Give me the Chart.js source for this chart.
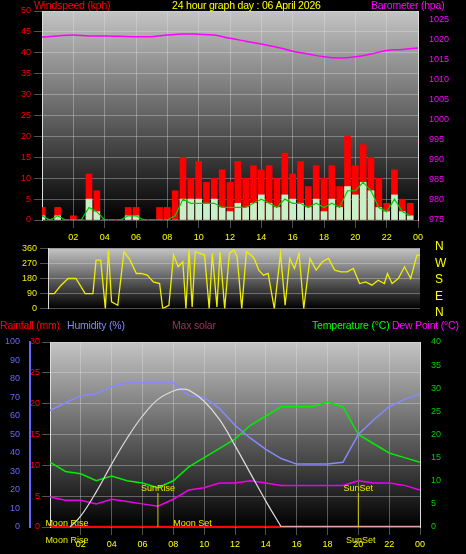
<!DOCTYPE html>
<html><head><meta charset="utf-8">
<script src="https://cdn.jsdelivr.net/npm/chart.js@4"></script>
<style>
body{margin:0;background:#000;width:466px;height:554px;overflow:hidden;font-family:"Liberation Sans",Arial,sans-serif}
canvas{position:absolute;left:0}
.t{position:absolute;font-size:10.5px;white-space:nowrap;letter-spacing:-0.2px}
</style></head><body>
<canvas id="wind" width="466" height="240" style="top:0;width:466px;height:240px"></canvas>
<canvas id="dir" width="466" height="77" style="top:240px;width:466px;height:77px"></canvas>
<canvas id="temp" width="466" height="224" style="top:330px;width:466px;height:224px"></canvas>
<div class="t" style="left:34px;top:-1px;color:#f00">Windspeed (kph)</div>
<div class="t" style="left:172px;top:-1px;color:#ff0">24 hour graph day : 06 April 2026</div>
<div class="t" style="left:371px;top:-1px;color:#f0f">Barometer (hpa)</div>
<div class="t" style="left:0;top:319px;color:#f00">Rainfall (mm)</div>
<div class="t" style="left:67px;top:319px;color:#88f">Humidity (%)</div>
<div class="t" style="left:172px;top:319px;color:#a03060">Max solar</div>
<div class="t" style="left:312px;top:319px;color:#0f0">Temperature (°C)</div>
<div class="t" style="left:392px;top:319px;color:#f0f">Dew Point (°C)</div>
<div class="t" style="left:435px;top:238px;color:#ff0;font-size:12px;line-height:16.5px">N<br>W<br>S<br>E<br>N</div>
<script>
// --- DATA ---
const windHours = [0,0.5,1,1.5,2,2.5,3,3.5,4,4.5,5,5.5,6,6.5,7,7.5,8,8.5,9,9.5,10,10.5,11,11.5,12,12.5,13,13.5,14,14.5,15,15.5,16,16.5,17,17.5,18,18.5,19,19.5,20,20.5,21,21.5,22,22.5,23,23.5];
const windGust = [3,0,3,0,1,0,11,7,0,0,0,3,3,0,0,3,3,7,15,10,14,9,10,12,9,14,10,13,12,13,10,16,11,14,8,13,10,13,8,20,13,18,15,10,4,12,5,4];
const windAvg  = [1,0,1,0,0,0,5,2,0,0,0,1,1,0,0,0,0,0,5,5,5,4,5,3,2,4,3,4,6,4,3,6,5,4,3,5,2,5,3,8,6,9,7,3,2,6,2,1];
const windLine = [1,0,1,0,0,0,3,2,0,0,0,1,1,0,0,0,0,1,5,4,4,4,4,3,3,3,3,4,5,4,3,5,4,4,3,4,3,4,3,7,7,9,7,3,2,5,2,1];
const baroHours = [0,1,2,3,4,5,6,7,8,9,10,11,12,13,14,15,16,17,18,19,20,21,22,23,24];
const baro = [1020.5,1020.8,1021,1020.8,1020.8,1020.7,1020.6,1020.6,1021,1021.3,1021.2,1021,1020.2,1019.5,1018.8,1018,1017,1016.3,1015.6,1015.3,1015.6,1016.3,1017.2,1017.4,1017.8];
const dirHours = [0,0.4,0.8,1.3,1.8,2.4,2.9,3.1,3.4,3.7,3.9,4.1,4.5,4.9,5.3,5.7,6,6.4,6.8,7.2,7.4,7.8,8.1,8.4,8.7,8.9,9.1,9.3,9.5,9.8,10.1,10.4,10.6,10.9,11.1,11.4,11.7,12,12.2,12.5,12.8,13.1,13.3,13.6,13.9,14.2,14.6,15,15.3,15.6,15.9,16.2,16.5,16.9,17.3,17.7,18.1,18.5,18.9,19.3,19.7,20.1,20.5,20.9,21.3,21.7,21.9,22.2,22.6,23,23.4,23.8,24];
const dirVals = [90,90,135,180,180,90,90,290,290,0,350,40,20,340,290,210,210,200,160,150,0,20,320,250,280,0,350,10,340,330,320,0,330,10,340,0,330,350,310,0,340,320,300,230,200,210,0,330,20,300,240,330,0,300,230,280,300,230,220,220,240,150,160,140,170,150,210,150,180,250,180,320,320];
const bHours = [0,1,2,3,4,5,6,7,8,9,10,11,12,13,14,15,16,17,18,19,20,21,22,23,24];
const humidity = [63,67,71,72,76,78,78,78,78,71,70,64,55,48,42,37,34,34,34,35,50,58,65,69,72];
const temperature = [14,12,11.5,10,11,10,9.5,8.5,10,13,15,17,19,22,24,26,26,26,27,26,20,18,16,15,14];
const dewPoint = [6.5,5.8,5.8,5,6,5.5,5,4.5,6,8,8.5,9.5,9.5,10,9.5,9,9,9,9,9,10,9.5,9.5,9,8];
const solarHours = [1.3,2,3,4,5,6,7,8,8.5,9,10,11,12,13,14,15];
const maxSolar = [0,60,190,340,480,600,690,735,745,740,680,580,440,290,140,0];
const rainHours = [0,15,24];
const rainfall = [0,0,0];
const hourTicks = [2,4,6,8,10,12,14,16,18,20,22,24];
const baroTicks = [975,980,985,990,995,1000,1005,1010,1015,1020,1025];

const pts = (xs, ys) => xs.map((x, i) => ({ x: x, y: ys[i] }));
const F = { family: '"Liberation Sans", Arial, sans-serif', size: 9 };
const grid = { color: 'rgba(230,230,230,0.35)', borderDash: [1, 2] };

const bgPlugin = {
  id: 'bg',
  beforeDraw(c) {
    const a = c.chartArea, ctx = c.ctx;
    const g = ctx.createLinearGradient(0, a.top, 0, a.bottom);
    g.addColorStop(0, '#c4c4c4');
    g.addColorStop(1, '#000');
    ctx.fillStyle = g;
    ctx.fillRect(a.left, a.top, a.right - a.left, a.bottom - a.top);
  }
};
const fit = w => function (s) { s.width = w; };
const xAxis = (show, h) => ({
  type: 'linear', min: 0, max: 24, display: true, offset: false,
  afterFit(s) { s.height = h; },
  afterBuildTicks(s) { s.ticks = hourTicks.map(v => ({ value: v })); },
  grid: { ...grid, offset: false }, border: { display: false },
  ticks: { display: show, color: '#ff0', font: F, maxRotation: 0, padding: 4, callback: v => String(v % 24).padStart(2, '0') }
});
const base = { responsive: false, animation: false, plugins: { legend: { display: false }, tooltip: { enabled: false } } };

// --- WIND / BARO ---
new Chart(document.getElementById('wind'), {
  type: 'bar',
  data: { datasets: [
    { type: 'line', data: pts(baroHours, baro), yAxisID: 'yb', borderColor: '#f0f', borderWidth: 1.5, pointRadius: 0, tension: 0.4 },
    { type: 'line', data: pts(windHours, windLine), yAxisID: 'y', borderColor: '#0c0', borderWidth: 1.2, pointRadius: 0 },
    { data: pts(windHours, windAvg), yAxisID: 'y', backgroundColor: '#c8f0c8', grouped: false, barThickness: 6 },
    { data: pts(windHours, windGust), yAxisID: 'y', backgroundColor: '#f00', grouped: false, barThickness: 6 }
  ] },
  options: { ...base, layout: { padding: { top: 11 } },
    scales: {
      x: xAxis(true, 20),
      y: { position: 'left', min: 0, max: 50, afterFit: fit(42), grid: grid, border: { color: '#ddd' },
        ticks: { stepSize: 5, color: '#f00', font: F } },
      yb: { position: 'right', min: 975, max: 1027, afterFit: fit(48), grid: { display: false }, border: { color: '#ddd' },
        afterBuildTicks(s) { s.ticks = baroTicks.map(v => ({ value: v })); },
        ticks: { color: '#f0f', font: F, callback: v => String(v) } }
    } }, plugins: [bgPlugin]
});

// --- WIND DIRECTION ---
new Chart(document.getElementById('dir'), {
  type: 'line',
  data: { datasets: [{ data: pts(dirHours, dirVals), borderColor: '#ee0', borderWidth: 1.3, pointRadius: 0 }] },
  options: { ...base, layout: { padding: { top: 7, bottom: 6 } },
    scales: {
      x: { ...xAxis(false, 0), display: false },
      y: { position: 'left', min: 0, max: 360, afterFit: fit(48), grid: { color: 'rgba(230,230,230,0.35)' }, border: { color: '#ddd' },
        ticks: { stepSize: 90, color: '#ee0', font: F } },
      yr: { position: 'right', min: 0, max: 360, afterFit: fit(46), display: true, grid: { display: false }, border: { display: false }, ticks: { display: false } }
    } }, plugins: [bgPlugin]
});

// --- TEMPERATURE / HUMIDITY ---
const markPlugin = {
  id: 'marks',
  afterDatasetsDraw(c) {
    const ctx = c.ctx, x = c.scales.x, a = c.chartArea;
    ctx.save();
    ctx.font = '9px "Liberation Sans", Arial';
    ctx.fillStyle = '#ee0'; ctx.strokeStyle = '#cc0'; ctx.lineWidth = 1;
    [[7, 'SunRise'], [20, 'SunSet']].forEach(([h, t]) => {
      const px = x.getPixelForValue(h);
      ctx.beginPath(); ctx.moveTo(px, a.bottom - 34); ctx.lineTo(px, a.bottom); ctx.stroke();
      ctx.textAlign = 'center'; ctx.fillText(t, px, a.bottom - 36);
    });
    ctx.textAlign = 'left';
    ctx.fillText('Moon Rise', x.getPixelForValue(-0.3), a.bottom - 1);
    ctx.fillText('Moon Set', x.getPixelForValue(8), a.bottom - 1);
    ctx.fillText('Moon Rise', x.getPixelForValue(-0.3), a.bottom + 16);
    ctx.fillText('SunSet', x.getPixelForValue(19.2), a.bottom + 16);
    ctx.restore();
  }
};
new Chart(document.getElementById('temp'), {
  type: 'line',
  data: { datasets: [
    { data: pts(solarHours, maxSolar), yAxisID: 'ys', borderColor: '#ddd', borderWidth: 1.2, pointRadius: 0, tension: 0.4 },
    { data: pts(bHours, humidity), yAxisID: 'yh', borderColor: '#88f', borderWidth: 1.5, pointRadius: 0 },
    { data: pts(bHours, temperature), yAxisID: 'yt', borderColor: '#0e0', borderWidth: 1.5, pointRadius: 0 },
    { data: pts(bHours, dewPoint), yAxisID: 'yt', borderColor: '#e0e', borderWidth: 1.5, pointRadius: 0 },
    { data: pts(rainHours, rainfall), yAxisID: 'yr', borderColor: '#f00', borderWidth: 2.5, pointRadius: 0,
      segment: { borderColor: s => s.p0DataIndex >= 1 ? '#e8a0a0' : '#f00' } }
  ] },
  options: { ...base, layout: { padding: { top: 12 } },
    scales: {
      x: xAxis(true, 27),
      yr: { position: 'left', min: 0, max: 30, afterFit: fit(20), grid: grid, border: { color: '#ddd' },
        ticks: { stepSize: 5, color: '#f00', font: F, padding: 2 } },
      yh: { position: 'left', min: 0, max: 100, afterFit: fit(30), grid: { display: false }, border: { color: '#66f', width: 2 },
        ticks: { stepSize: 10, color: '#66f', font: F, padding: 2 } },
      yt: { position: 'right', min: 0, max: 40, afterFit: fit(46), grid: { display: false }, border: { color: '#ddd' },
        ticks: { stepSize: 5, color: '#0c0', font: F } },
      ys: { display: false, min: 0, max: 1000 }
    } }, plugins: [bgPlugin, markPlugin]
});
</script>
</body></html>
